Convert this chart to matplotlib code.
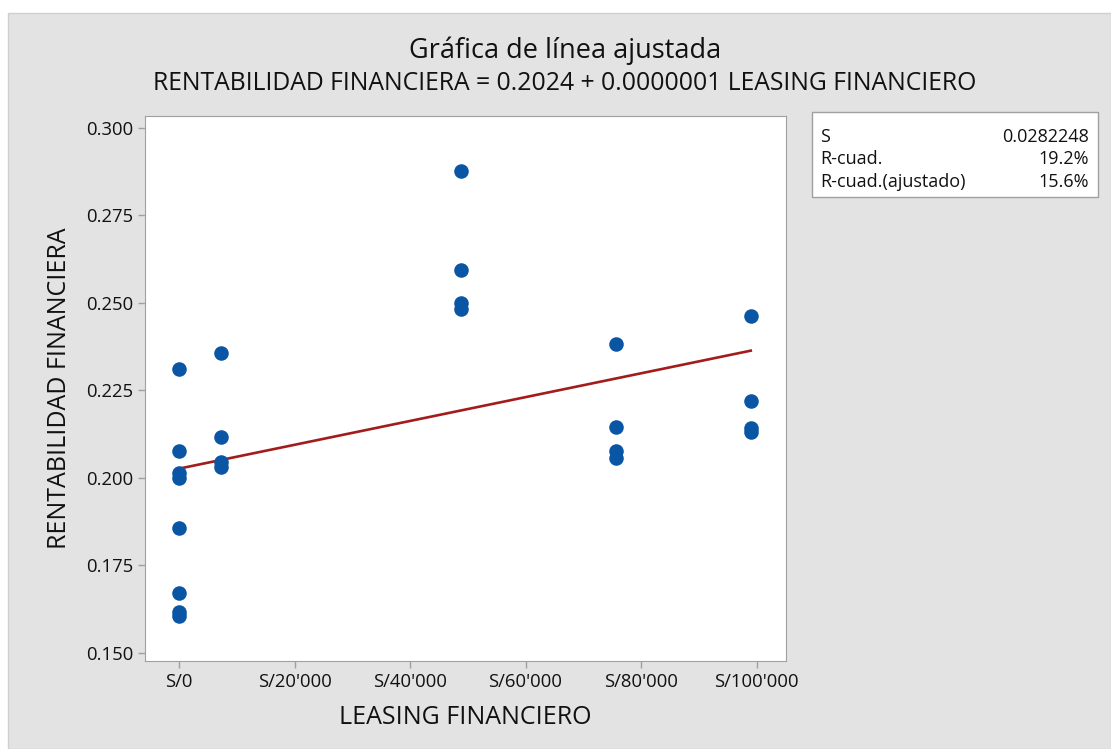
import matplotlib.pyplot as plt
from matplotlib.patches import Rectangle
from matplotlib.ticker import FuncFormatter
import numpy as np

plt.rcParams['font.family'] = ['Open Sans', 'DejaVu Sans']

# Leasing financiero (S/) and rentabilidad financiera
leasing = [0, 0, 0, 0, 0, 0, 0, 0,
           7300, 7300, 7300, 7300,
           48900, 48900, 48900, 48900,
           75700, 75700, 75700, 75700,
           99000, 99000, 99000, 99000]
rentabilidad = [0.2312, 0.2078, 0.2013, 0.1999, 0.1857, 0.1672, 0.1616, 0.1606,
                0.2356, 0.2117, 0.2046, 0.2032,
                0.2878, 0.2593, 0.2501, 0.2482,
                0.2383, 0.2146, 0.2077, 0.2058,
                0.2464, 0.2220, 0.2144, 0.2132]

stats_labels = ['S', 'R-cuad.', 'R-cuad.(ajustado)']
stats_values = ['0.0282248', '19.2%', '15.6%']

x = np.array(leasing)
y = np.array(rentabilidad)
slope, intercept = np.polyfit(x, y, 1)
x_fit = np.array([x.min(), x.max()])

fig = plt.figure(figsize=(11.11, 7.49), dpi=100)
fig.patch.set_facecolor('white')
W, H = 1111, 749
fig.patches.append(Rectangle((8 / W, 0), 1 - 8 / W, 1 - 13 / H, transform=fig.transFigure,
                             facecolor='#e3e3e3', edgecolor='#d0d0d0', linewidth=1, zorder=-5))

ax = fig.add_axes([145 / W, 1 - 661 / H, (786 - 145) / W, (661 - 116) / H])
ax.set_facecolor('white')
ax.scatter(x, y, s=110, color='#0a56a5', zorder=3, linewidths=0)
ax.plot(x_fit, intercept + slope * x_fit, color='#a31c1c', linewidth=1.9, zorder=2)

ax.set_xlim(-5900, 105100)
ax.set_ylim(0.1477, 0.3034)
ax.set_yticks([0.150, 0.175, 0.200, 0.225, 0.250, 0.275, 0.300])
ax.set_xticks([0, 20000, 40000, 60000, 80000, 100000])
ax.yaxis.set_major_formatter(FuncFormatter(lambda v, p: f'{v:.3f}'))
ax.xaxis.set_major_formatter(FuncFormatter(lambda v, p: "S/" + f'{int(v):,}'.replace(',', "'")))

for s in ax.spines.values():
    s.set_color('#a0a0a0')
ax.tick_params(colors='#a0a0a0', labelcolor='#111111', labelsize=13.3, length=5, width=1)
ax.set_xlabel('LEASING FINANCIERO', fontsize=18, color='#111111', labelpad=10)
ax.set_ylabel('RENTABILIDAD FINANCIERA', fontsize=18, color='#111111', labelpad=10)

fig.text(565 / W, 1 - 51 / H, 'Gráfica de línea ajustada', ha='center', va='center',
         fontsize=19.5, color='#111111')
fig.text(565 / W, 1 - 83 / H,
         'RENTABILIDAD FINANCIERA = 0.2024 + 0.0000001 LEASING FINANCIERO',
         ha='center', va='center', fontsize=17.8, color='#111111')

fig.patches.append(Rectangle((812 / W, 1 - 197 / H), (1098 - 812) / W, (197 - 112) / H,
                             transform=fig.transFigure, facecolor='white',
                             edgecolor='#a0a0a0', linewidth=1, zorder=1))
row_y = [137, 159, 182]
for lab, val, ry in zip(stats_labels, stats_values, row_y):
    fig.text(820 / W, 1 - ry / H, lab, ha='left', va='center', fontsize=13, color='#111111')
    fig.text(1089 / W, 1 - ry / H, val, ha='right', va='center', fontsize=13, color='#111111')

fig.savefig('out.png', dpi=100)
